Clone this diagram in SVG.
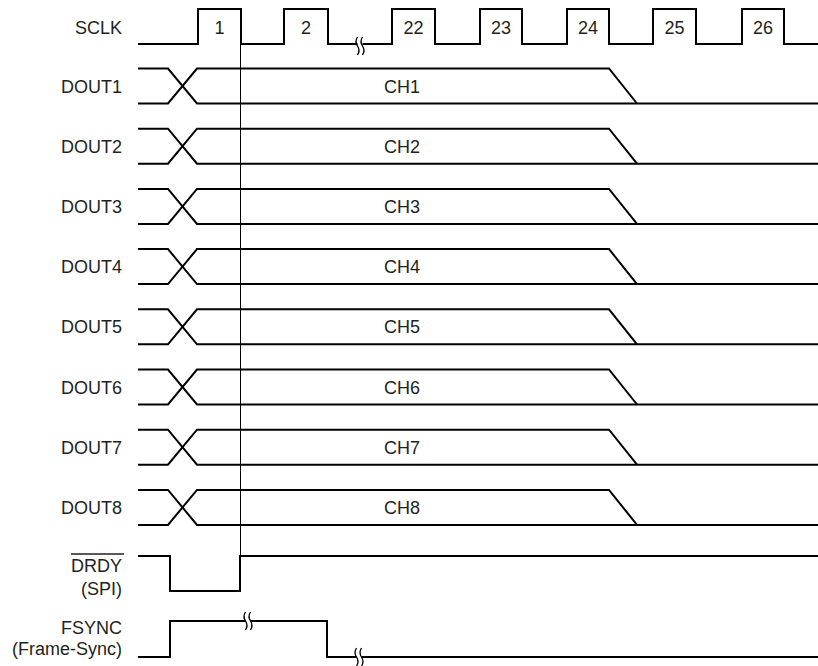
<svg xmlns="http://www.w3.org/2000/svg" xmlns:xlink="http://www.w3.org/1999/xlink" width="818" height="666" viewBox="0 0 818 666">
  <style>
    .sig { fill: none; stroke: #000; stroke-width: 2; stroke-linejoin: miter; }
    .thin { fill: none; stroke: #000; stroke-width: 1; }
    .lbl { font-family: "Liberation Sans", Arial, sans-serif; font-size: 18px; fill: #231f20; text-anchor: end; }
    .mid { font-family: "Liberation Sans", Arial, sans-serif; font-size: 18px; fill: #231f20; text-anchor: middle; }
    .brk { fill: none; stroke: #000; stroke-width: 1.3; }
  </style>
  <defs>
    <g id="dout">
      <path class="sig" d="M138 0 H168 L197 35 H818"/>
      <path class="sig" d="M138 35 H168 L197 0 H609 L637 35"/>
    </g>
    <g id="break">
      <rect x="-2.5" y="-3" width="5" height="6" fill="#fff"/>
      <path class="brk" d="M-2.5 -9 q-3 4.5 0 9 q3 4.5 0 9"/>
      <path class="brk" d="M2.5 -9 q-3 4.5 0 9 q3 4.5 0 9"/>
    </g>
  </defs>

  <g id="sclk">
    <text class="lbl" x="122" y="34">SCLK</text>
    <path class="sig" d="M138 44 H198 V9 H241 V44 H284 V9 H328 V44 H392 V9 H435 V44 H480 V9 H522 V44 H567 V9 H609 V44 H653 V9 H696 V44 H742 V9 H784 V44 H818"/>
    <use xlink:href="#break" href="#break" transform="translate(360,46)"/>
    <text class="mid" x="219.5" y="34">1</text>
    <text class="mid" x="306" y="34">2</text>
    <text class="mid" x="413.5" y="34">22</text>
    <text class="mid" x="501" y="34">23</text>
    <text class="mid" x="588" y="34">24</text>
    <text class="mid" x="674.5" y="34">25</text>
    <text class="mid" x="763" y="34">26</text>
  </g>

  <g id="dout1" transform="translate(0,68.5)">
    <use xlink:href="#dout" href="#dout"/>
    <text class="lbl" x="122" y="24">DOUT1</text>
    <text class="mid" x="402" y="24">CH1</text>
  </g>
  <g id="dout2" transform="translate(0,128.7)">
    <use xlink:href="#dout" href="#dout"/>
    <text class="lbl" x="122" y="24">DOUT2</text>
    <text class="mid" x="402" y="24">CH2</text>
  </g>
  <g id="dout3" transform="translate(0,188.9)">
    <use xlink:href="#dout" href="#dout"/>
    <text class="lbl" x="122" y="24">DOUT3</text>
    <text class="mid" x="402" y="24">CH3</text>
  </g>
  <g id="dout4" transform="translate(0,249.1)">
    <use xlink:href="#dout" href="#dout"/>
    <text class="lbl" x="122" y="24">DOUT4</text>
    <text class="mid" x="402" y="24">CH4</text>
  </g>
  <g id="dout5" transform="translate(0,309.3)">
    <use xlink:href="#dout" href="#dout"/>
    <text class="lbl" x="122" y="24">DOUT5</text>
    <text class="mid" x="402" y="24">CH5</text>
  </g>
  <g id="dout6" transform="translate(0,369.5)">
    <use xlink:href="#dout" href="#dout"/>
    <text class="lbl" x="122" y="24">DOUT6</text>
    <text class="mid" x="402" y="24">CH6</text>
  </g>
  <g id="dout7" transform="translate(0,429.7)">
    <use xlink:href="#dout" href="#dout"/>
    <text class="lbl" x="122" y="24">DOUT7</text>
    <text class="mid" x="402" y="24">CH7</text>
  </g>
  <g id="dout8" transform="translate(0,489.9)">
    <use xlink:href="#dout" href="#dout"/>
    <text class="lbl" x="122" y="24">DOUT8</text>
    <text class="mid" x="402" y="24">CH8</text>
  </g>

  <g id="drdy">
    <text class="lbl" x="122" y="572">DRDY</text>
    <line x1="71" y1="554" x2="124" y2="554" stroke="#231f20" stroke-width="1.3"/>
    <text class="lbl" x="122" y="595">(SPI)</text>
    <path class="sig" d="M138 556 H170 V591 H240 V556 H818"/>
  </g>

  <g id="fsync">
    <text class="lbl" x="122" y="634">FSYNC</text>
    <text class="lbl" x="122" y="655">(Frame-Sync)</text>
    <path class="sig" d="M138 657 H170 V621 H327 V657 H818"/>
    <use xlink:href="#break" href="#break" transform="translate(248,621)"/>
    <use xlink:href="#break" href="#break" transform="translate(359,657)"/>
  </g>

  <g id="connectors">
    <line class="thin" x1="240.5" y1="9" x2="240.5" y2="556"/>
  </g>
</svg>
